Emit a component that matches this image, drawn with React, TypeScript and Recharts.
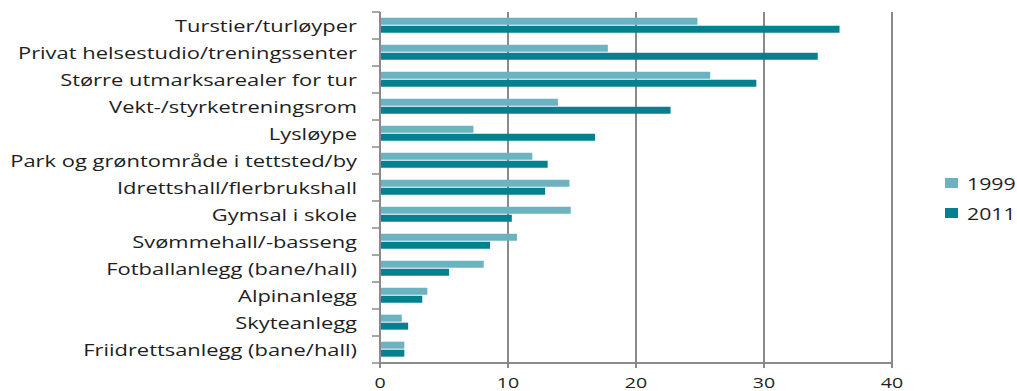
import { BarChart, Bar, XAxis, YAxis, CartesianGrid } from "recharts";

const categories = [
  "Turstier/turløyper",
  "Privat helsestudio/treningssenter",
  "Større utmarksarealer for tur",
  "Vekt-/styrketreningsrom",
  "Lysløype",
  "Park og grøntområde i tettsted/by",
  "Idrettshall/flerbrukshall",
  "Gymsal i skole",
  "Svømmehall/-basseng",
  "Fotballanlegg (bane/hall)",
  "Alpinanlegg",
  "Skyteanlegg",
  "Friidrettsanlegg (bane/hall)",
];
const values1999 = [24.8, 17.8, 25.8, 13.9, 7.3, 11.9, 14.8, 14.9, 10.7, 8.1, 3.7, 1.7, 1.9];
const values2011 = [35.9, 34.2, 29.4, 22.7, 16.8, 13.1, 12.9, 10.3, 8.6, 5.4, 3.3, 2.2, 1.9];
const xTicks = [0, 10, 20, 30, 40];
const seriesNames = ["1999", "2011"];

const data = categories.map((name, i) => ({
  name,
  y1999: values1999[i],
  y2011: values2011[i],
}));

const LIGHT = "#6bb3c0";
const DARK = "#05808f";
const GRID = "#8a8a8a";
const TEXT = "#1e1e1e";
const FONT = "'Open Sans', sans-serif";

const TOP = 12;
const XAXIS_H = 28;
const HEIGHT = 391;
const BAND = (HEIGHT - TOP - XAXIS_H) / categories.length;

function CategoryTick({ y, payload, index }: any) {
  return (
    <g>
      <line x1={372} x2={380} y1={y - BAND / 2} y2={y - BAND / 2} stroke={GRID} strokeWidth={1.5} />
      {index === categories.length - 1 && (
        <line x1={372} x2={380} y1={y + BAND / 2} y2={y + BAND / 2} stroke={GRID} strokeWidth={1.5} />
      )}
      <text
        transform={`translate(357,${y}) scale(1.37,1)`}
        textAnchor="end"
        dominantBaseline="central"
        fontFamily={FONT}
        fontSize={16}
        fill={TEXT}
      >
        {payload.value}
      </text>
    </g>
  );
}

function ValueTick({ x, y, payload }: any) {
  return (
    <text
      transform={`translate(${x},${y + 13}) scale(1.4,1)`}
      textAnchor="middle"
      dominantBaseline="central"
      fontFamily={FONT}
      fontSize={14}
      fill={TEXT}
    >
      {payload.value}
    </text>
  );
}

export default function App() {
  const colors = [LIGHT, DARK];
  return (
    <div style={{ position: "absolute", left: 0, top: 0, width: 1017, height: HEIGHT, background: "#fff" }}>
      <BarChart
        width={1017}
        height={HEIGHT}
        data={data}
        layout="vertical"
        margin={{ top: TOP, right: 125, bottom: 0, left: 0 }}
        barCategoryGap="21%"
        barGap={1}
      >
        <CartesianGrid horizontal={false} stroke={GRID} strokeWidth={2} />
        <XAxis
          type="number"
          domain={[0, 40]}
          ticks={xTicks}
          axisLine={{ stroke: GRID, strokeWidth: 2 }}
          tickLine={{ stroke: GRID, strokeWidth: 2 }}
          tickSize={5}
          height={XAXIS_H}
          tick={<ValueTick />}
          interval={0}
        />
        <YAxis
          type="category"
          dataKey="name"
          width={380}
          axisLine={{ stroke: GRID, strokeWidth: 2 }}
          tickLine={false}
          tick={<CategoryTick />}
          interval={0}
        />
        <Bar dataKey="y1999" name="1999" fill={LIGHT} isAnimationActive={false} />
        <Bar dataKey="y2011" name="2011" fill={DARK} isAnimationActive={false} />
      </BarChart>
      {/* legend */}
      <div style={{ position: "absolute", left: 945, top: 168, fontFamily: FONT, fontSize: 17, color: TEXT }}>
        {seriesNames.map((s, i) => (
          <div key={s} style={{ display: "flex", alignItems: "center", height: 30 }}>
            <span style={{ width: 13, height: 10, background: colors[i], marginRight: 9, display: "inline-block" }} />
            <span style={{ display: "inline-block", transform: "scaleX(1.25)", transformOrigin: "left center" }}>{s}</span>
          </div>
        ))}
      </div>
    </div>
  );
}
